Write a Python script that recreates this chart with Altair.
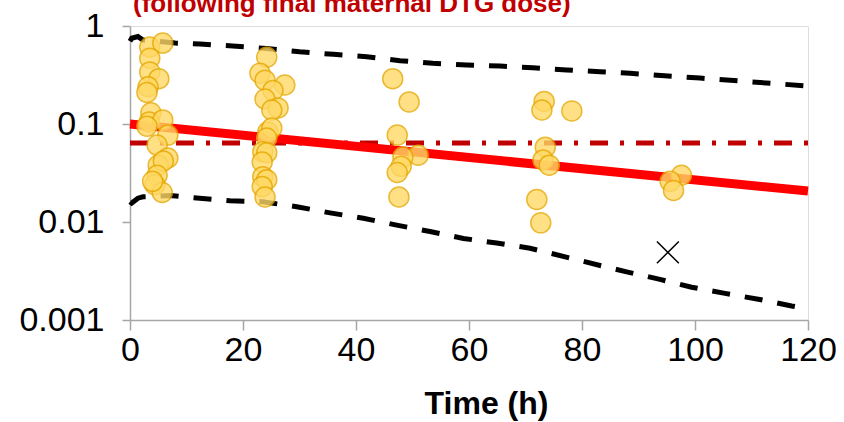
import altair as alt
import pandas as pd

# observed concentrations (scatter)
point_time = [3.5, 5.8, 3.5, 3.5, 5.1, 3.2, 3.0, 3.7, 3.4, 5.8, 3.0, 6.7, 4.8, 6.7, 5.0, 5.9, 4.8, 4.4, 5.7, 4.0,
              24.2, 23.0, 23.9, 27.4, 25.3, 23.9, 26.2, 25.1, 24.4, 25.1, 24.2, 23.5, 24.2, 23.4, 23.5, 24.2, 23.4, 23.9,
              46.5, 49.4, 47.3, 51.0, 48.3, 48.0, 47.3, 47.6,
              73.3, 72.9, 78.2, 73.5, 73.1, 74.2, 72.0, 72.7,
              97.6, 95.6, 96.2]
point_conc = [0.61, 0.67, 0.47, 0.34, 0.29, 0.24, 0.21, 0.13, 0.105, 0.11, 0.095, 0.077, 0.061, 0.045, 0.038, 0.042, 0.030, 0.024, 0.020, 0.026,
              0.48, 0.33, 0.28, 0.25, 0.22, 0.18, 0.146, 0.139, 0.083, 0.091, 0.072, 0.052, 0.051, 0.041, 0.029, 0.027, 0.023, 0.018,
              0.29, 0.168, 0.077, 0.048, 0.046, 0.037, 0.032, 0.018,
              0.17, 0.139, 0.136, 0.058, 0.043, 0.038, 0.017, 0.0098,
              0.030, 0.026, 0.021]

# excluded observation (cross)
cross_time = [95.2]
cross_conc = [0.0049]

# population prediction (solid red)
pred_time = [0, 120]
pred_conc = [0.1, 0.0207]

# threshold (dash-dot)
thresh_time = [0, 120]
thresh_conc = [0.064, 0.064]

# 90% prediction interval (black dashed)
upper_time = [0, 0.3, 1.4, 2.3, 8, 12.4, 18.2, 24.2, 30, 36, 41.9, 47.8, 53.6, 59.6, 65.5, 71.3, 77.3, 83.2, 88.5, 100.9, 120]
upper_conc = [0.70, 0.75, 0.78, 0.72, 0.67, 0.655, 0.625, 0.59, 0.546, 0.514, 0.486, 0.443, 0.416, 0.40, 0.39, 0.375, 0.356, 0.342, 0.329, 0.294, 0.244]
lower_time = [0, 0.3, 1.4, 2.3, 7.1, 11.8, 17.7, 23.5, 29.5, 35.4, 41.3, 47.2, 53.1, 59, 64.9, 70.8, 83.2, 87.9, 93.8, 99.4, 105.3, 111.2, 117.1, 120]
lower_conc = [0.0161, 0.0156, 0.0175, 0.0181, 0.0186, 0.0176, 0.0165, 0.0161, 0.0143, 0.0124, 0.0109, 0.0093, 0.0080, 0.0068, 0.0061, 0.0054, 0.0036, 0.0031, 0.0026, 0.00216, 0.00187, 0.00163, 0.00139, 0.0013]

x_ticks = [0, 20, 40, 60, 80, 100, 120]
y_ticks = [0.001, 0.01, 0.1, 1]

title_text = ["(following final maternal DTG dose)"]

FONT = "Liberation Sans"
AXIS_GRAY = "#A6A6A6"


def X():
    return alt.X("t:Q",
                 scale=alt.Scale(domain=[0, 120], nice=False, zero=False),
                 axis=alt.Axis(values=x_ticks, title="Time (h)", grid=False,
                               domainColor=AXIS_GRAY, domainWidth=1.5,
                               tickColor=AXIS_GRAY, tickWidth=1.5, tickSize=10,
                               labelFont=FONT, labelFontSize=34, labelColor="black",
                               labelPadding=3, labelFlush=False,
                               titleFont=FONT, titleFontSize=32, titleFontWeight="bold",
                               titleColor="black", titleX=356, titleY=93,
                               titleBaseline="alphabetic", titleAnchor="start", titleAlign="center"))


def Y():
    return alt.Y("c:Q",
                 scale=alt.Scale(type="log", domain=[0.001, 1], nice=False),
                 axis=alt.Axis(values=y_ticks, format="~g", title=None, grid=False,
                               domainColor=AXIS_GRAY, domainWidth=1.5,
                               tickColor=AXIS_GRAY, tickWidth=1.5, tickSize=8,
                               labelFont=FONT, labelFontSize=34, labelColor="black",
                               labelPadding=18, labelFlush=False))


pts = pd.DataFrame({"t": point_time, "c": point_conc})
crs = pd.DataFrame({"t": cross_time, "c": cross_conc})
pred = pd.DataFrame({"t": pred_time, "c": pred_conc})
thr = pd.DataFrame({"t": thresh_time, "c": thresh_conc})
up = pd.DataFrame({"t": upper_time, "c": upper_conc})
lo = pd.DataFrame({"t": lower_time, "c": lower_conc})
ttl = pd.DataFrame({"label": title_text})

upper_line = alt.Chart(up).mark_line(color="black", strokeWidth=5, strokeDash=[18, 15]).encode(x=X(), y=Y())
lower_line = alt.Chart(lo).mark_line(color="black", strokeWidth=5, strokeDash=[18, 15]).encode(x=X(), y=Y())
thr_line = alt.Chart(thr).mark_line(color="#C00000", strokeWidth=5, strokeDash=[18, 12, 4, 12]).encode(x=X(), y=Y())
pred_line = alt.Chart(pred).mark_line(color="#FF0000", strokeWidth=9).encode(x=X(), y=Y())
points = alt.Chart(pts).mark_circle(size=400, color="#FFD966", opacity=0.8,
                                     stroke="#E6A800", strokeWidth=1.5, strokeOpacity=1).encode(x=X(), y=Y())
cross = alt.Chart(crs).mark_point(shape="M-1,-1L1,1M1,-1L-1,1", size=480, filled=False,
                                  color="black", strokeWidth=1.5, opacity=1).encode(x=X(), y=Y())
title_mark = alt.Chart(ttl).mark_text(font=FONT, fontSize=26, fontWeight="bold", color="#C00000",
                                      align="left", baseline="alphabetic").encode(
    text="label:N", x=alt.value(3), y=alt.value(-14))

chart = alt.layer(upper_line, lower_line, thr_line, pred_line, points, cross, title_mark).properties(
    width=678, height=294,
    padding={"left": 130, "top": 26, "right": 36, "bottom": 102},
    autosize=alt.AutoSizeParams(type="none"),
).configure_view(stroke=None).configure(background="white")

chart.save("out.html", embed_options={"renderer": "svg", "actions": False})
